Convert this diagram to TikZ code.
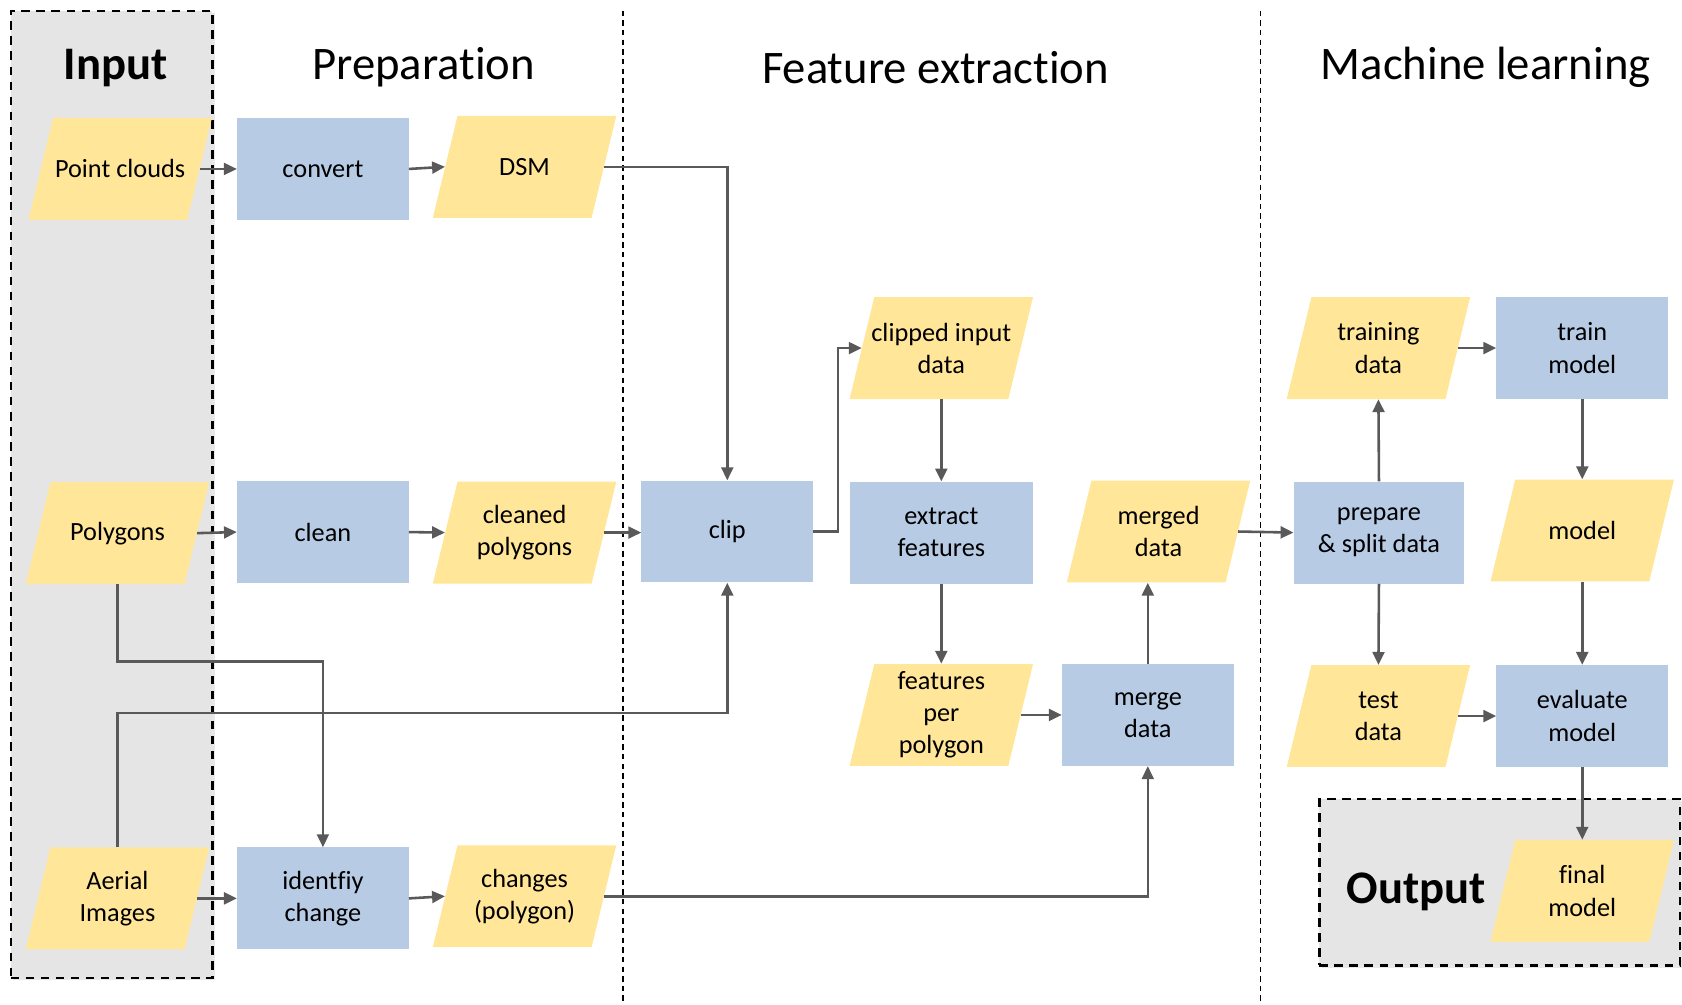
\documentclass[tikz,border=0pt]{standalone}
\usepackage{fontspec}
\setmainfont{Carlito}[Ligatures=NoCommon]
\usetikzlibrary{arrows.meta,shadows}

\definecolor{datafill}{HTML}{FFE699}
\definecolor{procfill}{HTML}{B7CBE5}
\definecolor{groupfill}{HTML}{E5E5E5}
\definecolor{linkgray}{HTML}{595959}

% data item: slanted parallelogram filled first, then a named node on its midline
\newcommand\dataitem[4]{%
  \fill[datafill] ({#2-85.5},{#3+47.5}) -- ({#2+62.5},{#3+47.5})
    -- ({#2+85.5},{#3-47.5}) -- ({#2-62.5},{#3-47.5}) -- cycle;
  \node[datashape] (#1) at (#2,#3) {#4};}

\begin{document}
\begin{tikzpicture}[x=1pt,y=-1pt,
  every node/.style={font=\fontsize{24.5}{30}\selectfont, align=center, inner sep=0pt},
  datashape/.style={minimum width=148pt, minimum height=95pt},
  procbox/.style={fill=procfill, minimum width=160pt, minimum height=95pt},
  groupbox/.style={fill=groupfill, draw=black, line width=2.2pt, dash pattern=on 8pt off 6pt,
    drop shadow={shadow xshift=2pt, shadow yshift=-2pt, opacity=0.18}},
  header/.style={font=\fontsize{43.5}{52}\selectfont},
  boldheader/.style={font=\fontsize{43.5}{52}\selectfont\bfseries},
  separator/.style={line width=1.4pt, dash pattern=on 5pt off 4pt},
  link/.style={draw=linkgray, line width=2.4pt, -{Triangle[length=12pt,width=11pt]}},
]
\useasboundingbox (0,0) rectangle (1568,936);

% grouping boxes for inputs and outputs
\node[groupbox, minimum width=188pt, minimum height=902pt] (inbox) at (104,461) {};
\node[groupbox, minimum width=336pt, minimum height=155pt] (outbox) at (1398,822.5) {};

% stage separators
\coordinate (sepAtop) at (581,10);  \coordinate (sepAbot) at (581,936);
\coordinate (sepBtop) at (1175,10); \coordinate (sepBbot) at (1175,936);
\draw[separator] (sepAtop) -- (sepAbot);
\draw[separator] (sepBtop) -- (sepBbot);

% stage headers
\node[boldheader] (hin) at (108,63) {Input};
\node[header] (hprep) at (395,63) {Preparation};
\node[header] (hfeat) at (872,63) {Feature extraction};
\node[header] (hml) at (1385,63) {Machine learning};
\node[boldheader] (hout) at (1320,831) {Output};

% inputs
\dataitem{pc}{112}{157.5}{Point clouds}
\dataitem{poly}{109.5}{497}{Polygons}
\dataitem{aerial}{109.5}{837.5}{Aerial\\Images}

% preparation
\node[procbox] (convert) at (301,157.5) {convert};
\dataitem{dsm}{489}{155.5}{DSM}
\node[procbox] (clean) at (301,496) {clean};
\dataitem{cpoly}{489}{496.5}{cleaned\\polygons}
\node[procbox] (ident) at (301,837.5) {identfiy\\change};
\dataitem{changes}{489}{835.5}{changes\\(polygon)}

% feature extraction
\node[procbox] (clip) at (678,495.5) {clip};
\dataitem{clipped}{877.5}{324.5}{clipped input\\data}
\node[procbox, minimum width=171pt] (extract) at (877.5,496.5) {extract\\features};
\dataitem{fpp}{877.5}{666.5}{features\\per\\polygon}
\node[procbox] (merge) at (1070,666.5) {merge\\data};
\dataitem{merged}{1080}{495.5}{merged\\data}

% machine learning
\node[procbox, minimum width=159pt] (prep) at (1285.5,496.5) {prepare\\\& split data};
\dataitem{train}{1285}{324.5}{training\\data}
\node[procbox] (trainm) at (1475,324.5) {train\\model};
\dataitem{model}{1475}{494.5}{model}
\dataitem{test}{1285}{667.5}{test\\data}
\node[procbox] (evalm) at (1475,667.5) {evaluate\\model};
\dataitem{final}{1475}{830.5}{final\\model}

% connectors
\draw[link] (pc.east) -- (convert.west);
\draw[link] (convert.east) -- (dsm.west);
\draw[link] (dsm.east) -| (clip.north);
\draw[link] (poly.east) -- (clean.west);
\draw[link] (clean.east) -- (cpoly.west);
\draw[link] (cpoly.east) -- (clip.west |- cpoly.east);
\draw[link] (aerial.east) -- (ident.west);
\draw[link] (ident.east) -- (changes.west);
\draw[link] (poly.south) -- ++(0,72) -| (ident.north);
\draw[link] (aerial.north) -- ++(0,-125) -| (clip.south);
\draw[link] (changes.east) -| (merge.south);
\draw[link] (clip.east) -- ++(23,0) |- (clipped.west);
\draw[link] (clipped.south) -- (extract.north);
\draw[link] (extract.south) -- (fpp.north);
\draw[link] (fpp.east) -- (merge.west);
\draw[link] (merge.north) -- (merge.north |- merged.south);
\draw[link] (merged.east) -- (prep.west);
\draw[link] (prep.north) -- (train.south);
\draw[link] (prep.south) -- (test.north);
\draw[link] (train.east) -- (trainm.west);
\draw[link] (trainm.south) -- (model.north);
\draw[link] (model.south) -- (evalm.north);
\draw[link] (test.east) -- (evalm.west);
\draw[link] (evalm.south) -- (final.north);
\end{tikzpicture}
\end{document}
